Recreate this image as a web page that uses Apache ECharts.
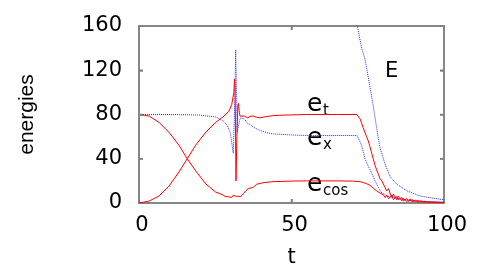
<!DOCTYPE html>
<html>
<head>
<meta charset="utf-8">
<script src="https://cdn.jsdelivr.net/npm/echarts@6/dist/echarts.min.js"></script>
<style>
html,body{margin:0;padding:0;background:#fff;}
#chart{width:491px;height:273px;}
</style>
</head>
<body>
<div id="chart"></div>
<script>
// ---- data (t, energy) ----
const xTicks = [0, 50, 100];
const yTicks = [0, 40, 80, 120, 160];

const eT = [[0,0],[3.3,1.7],[6.6,6.4],[9.8,15.2],[13.1,28],[15.8,40],[18.6,52.3],[21.9,64],[25.1,72.8],[27.9,78.6],[29.5,83],[30.4,89],[31.1,100],[31.35,112],[31.5,105],[31.8,20],[32.1,60],[32.4,88],[32.6,90],[32.9,82],[33.1,78.6],[33.4,77],[34.5,78.6],[35.6,77],[36.7,78.5],[37.5,78.6],[38.5,77.5],[39.5,77],[41.5,78],[44,79],[48,79.5],[55,80],[65,80],[71.4,80],[72.5,76],[73.5,68],[74.6,60],[75.2,56],[75.7,51],[76.3,45],[76.8,40],[77.4,34],[77.9,30],[78.5,26],[79,22],[79.6,20],[80.1,18.5],[80.7,14],[81.2,11],[81.8,13],[82.3,9],[82.9,5],[83.4,8],[84,7],[84.5,3],[85,6],[85.6,6.5],[86.2,2],[86.7,4],[87.3,4.5],[87.8,1.5],[88.4,3],[89,3.5],[89.5,1],[90,2.2],[90.6,2.5],[91.5,0.8],[92.5,2],[93.5,0.7],[95,1.2],[97,0.5],[100,0.3]];

const eCos = [[0,80],[3.3,78.6],[6.6,72.8],[9.8,64],[13.1,52.3],[15.8,40],[18.6,29],[21.9,17.3],[25.1,9.9],[27.3,7.6],[28.2,6],[29.5,5.5],[30.4,5],[30.9,7],[31.5,8.4],[32,6],[32.6,5.3],[33.4,6],[34.2,8.3],[35,11],[35.8,12.9],[37.5,14.3],[38.6,17],[41,18.5],[44,19.3],[50,19.8],[55,20],[60,20],[65,20],[70,19.8],[72.5,19.3],[73.5,18.5],[74.6,17.5],[75.7,16],[76.8,13.5],[77.9,11],[79,9],[80.1,7.5],[80.7,5],[81.2,7],[81.8,4],[82.3,5.5],[82.9,7],[83.4,3],[84,4.5],[84.5,6],[85,3],[85.6,2.5],[86.2,5],[86.7,2],[87.3,2],[87.8,4],[88.4,1.5],[89,1.5],[89.5,3],[90,1.2],[90.6,1.2],[91.5,2.2],[92.5,0.8],[93.5,1.5],[95,0.6],[97,0.8],[100,0.3]];

const eX = [[0,80],[10.9,80],[19.7,79.5],[25.1,77.8],[27.3,74.9],[29,70],[30,62.6],[30.9,45],[31.1,44],[31.4,90],[31.7,138.5],[31.9,110],[32.2,64],[32.8,72],[33.2,77],[34.5,76],[35.6,72],[36.4,71],[37.5,68.5],[39.7,65.5],[42,63.5],[44,62.5],[50,61.5],[55,61],[71.4,61],[72,58],[73,52],[74.1,40],[75.2,33],[76.3,27],[77.4,20],[78.5,14],[79.6,9],[80.5,8],[81.2,6.5],[82.5,5.5],[84.5,4.5],[87,3],[90,2],[95,1.2],[100,1]];

const eTotal = [[70.8,175],[71.6,160],[72.5,147],[73,140],[74.1,130],[75.2,113],[76.8,88],[77.9,68],[79,50],[80.7,35],[82.3,24],[84.5,17],[87.8,11],[92,6.5],[96,4.5],[100,3]];

const FONT = 'DejaVu Sans';
const GRAY = '#808080';
const TICK_LEN = 4;

const chart = echarts.init(document.getElementById('chart'));

function lineSeries(data, color, dotted){
  return {
    type:'line', data:data, showSymbol:false,
    lineStyle:{color:color, width:1, type: dotted ? 'dotted' : 'solid'}
  };
}

function axisCommon(extra){
  return Object.assign({
    type:'value', splitLine:{show:false},
    axisLine:{show:true, onZero:false, lineStyle:{color:GRAY, width:1.5, type:'solid'}},
    axisTick:{show:true, inside:true, length:TICK_LEN, lineStyle:{color:GRAY, width:1.5, type:'solid'}}
  }, extra);
}

const labelGraphics = [
  {type:'text', left:385, top:61, style:{text:'E', font:'21px "DejaVu Sans"', fill:'#000'}},
  {type:'text', left:307, top:92, style:{text:'e', font:'25px "DejaVu Sans"', fill:'#000'}},
  {type:'text', left:323, top:104, style:{text:'t', font:'15px "DejaVu Sans"', fill:'#000'}},
  {type:'text', left:307, top:126, style:{text:'e', font:'25px "DejaVu Sans"', fill:'#000'}},
  {type:'text', left:323, top:138, style:{text:'x', font:'15px "DejaVu Sans"', fill:'#000'}},
  {type:'text', left:307, top:172, style:{text:'e', font:'25px "DejaVu Sans"', fill:'#000'}},
  {type:'text', left:323, top:184, style:{text:'cos', font:'15px "DejaVu Sans"', fill:'#000'}}
];

chart.setOption({
  animation:false,
  grid:{left:139, right:47, top:26, bottom:65, show:true, borderColor:GRAY, borderWidth:1.5, backgroundColor:'rgba(0,0,0,0)'},
  xAxis:[
    axisCommon({
      min:xTicks[0], max:xTicks[xTicks.length-1], interval:50, position:'bottom',
      name:'t', nameLocation:'middle', nameGap:44,
      nameTextStyle:{fontFamily:FONT, fontSize:21, color:'#000'},
      axisLabel:{fontFamily:FONT, fontSize:21, color:'#000', margin:12, padding:[0,0,0,6]}
    }),
    axisCommon({
      min:xTicks[0], max:xTicks[xTicks.length-1], interval:50, position:'top',
      axisLabel:{show:false}
    })
  ],
  yAxis:[
    axisCommon({
      min:yTicks[0], max:yTicks[yTicks.length-1], interval:40, position:'left',
      name:'energies', nameLocation:'middle', nameGap:101,
      nameTextStyle:{fontFamily:'Liberation Sans', fontSize:21, color:'#000'},
      axisLabel:{fontFamily:FONT, fontSize:21, color:'#000', margin:17}
    }),
    axisCommon({
      min:yTicks[0], max:yTicks[yTicks.length-1], interval:40, position:'right',
      axisLabel:{show:false}
    })
  ],
  series:[
    lineSeries(eX, '#2a2aff', true),
    lineSeries(eTotal, '#2a2aff', true),
    lineSeries(eT, '#ff0000', false),
    lineSeries(eCos, '#ff0000', false)
  ],
  graphic:labelGraphics
});

// Inward tick marks on all four sides, positioned through the chart's own scales.
const xMin = xTicks[0], xMax = xTicks[xTicks.length-1];
const yMin = yTicks[0], yMax = yTicks[yTicks.length-1];
const tickGraphics = [];
const tickStyle = {stroke:GRAY, lineWidth:1.5};
yTicks.slice(1, -1).forEach(function(v){
  const pl = chart.convertToPixel({gridIndex:0}, [xMin, v]);
  const pr = chart.convertToPixel({gridIndex:0}, [xMax, v]);
  tickGraphics.push({type:'line', silent:true, z:50, shape:{x1:pl[0], y1:pl[1], x2:pl[0]+TICK_LEN, y2:pl[1]}, style:tickStyle});
  tickGraphics.push({type:'line', silent:true, z:50, shape:{x1:pr[0], y1:pr[1], x2:pr[0]-TICK_LEN, y2:pr[1]}, style:tickStyle});
});
xTicks.slice(1, -1).forEach(function(v){
  const pb = chart.convertToPixel({gridIndex:0}, [v, yMin]);
  const pt = chart.convertToPixel({gridIndex:0}, [v, yMax]);
  tickGraphics.push({type:'line', silent:true, z:50, shape:{x1:pb[0], y1:pb[1], x2:pb[0], y2:pb[1]-TICK_LEN}, style:tickStyle});
  tickGraphics.push({type:'line', silent:true, z:50, shape:{x1:pt[0], y1:pt[1], x2:pt[0], y2:pt[1]+TICK_LEN}, style:tickStyle});
});
chart.setOption({graphic: labelGraphics.concat(tickGraphics)}, {replaceMerge:['graphic']});
</script>
</body>
</html>
